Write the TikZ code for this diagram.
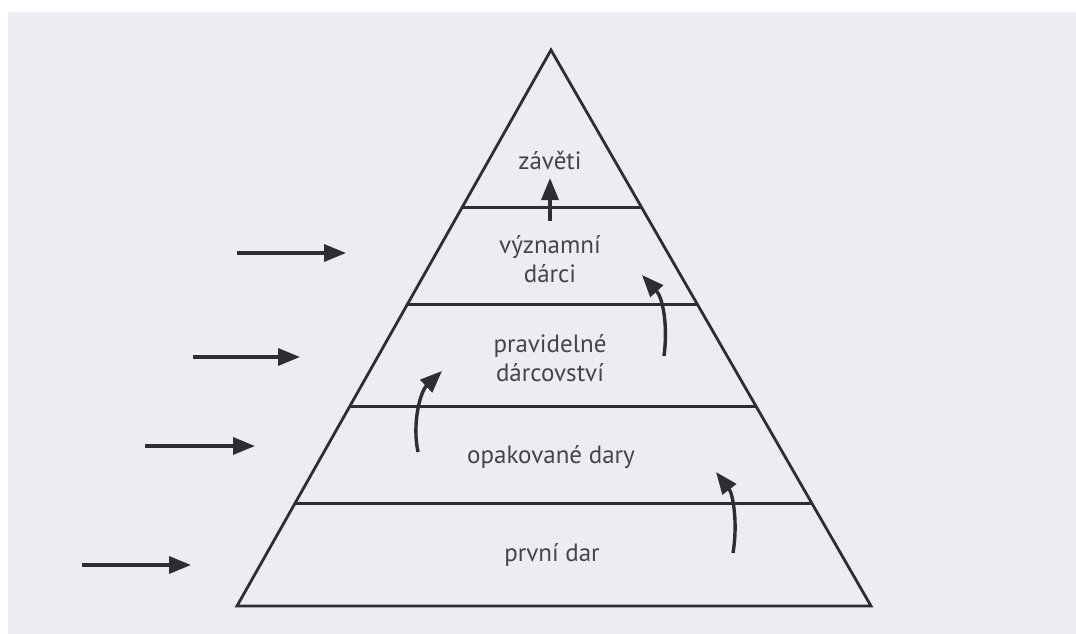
\documentclass[tikz,border=0pt]{standalone}
\usepackage{fontspec}
\setmainfont{PT Sans}
\usetikzlibrary{arrows.meta,calc}
\definecolor{page}{RGB}{236,236,242}
\definecolor{ink}{RGB}{45,45,52}
\definecolor{txt}{RGB}{68,68,74}
\tikzset{
  edge/.style={draw=ink, line width=2.8pt, line join=miter},
  layer/.style={draw=ink, line width=3pt},
  flow/.style={draw=ink, line width=3.4pt, -{Triangle[length=22pt,width=17pt]}},
  lbl/.style={text=txt, font=\fontsize{25}{29}\selectfont, align=center, inner sep=0pt},
}
\begin{document}
\begin{tikzpicture}[x=1pt,y=-1pt]
\fill[white] (0,0) rectangle (1076,634);
\fill[page] (8,12) rectangle (1076,634);
\useasboundingbox (0,0) rectangle (1076,634);
% pyramid corners
\coordinate (apex) at (551,50);
\coordinate (bl) at (237,606);
\coordinate (br) at (871,606);
% layer boundaries
\coordinate (L1) at ($(apex)!0.2824!(bl)$);
\coordinate (R1) at ($(apex)!0.2824!(br)$);
\coordinate (L2) at ($(apex)!0.4586!(bl)$);
\coordinate (R2) at ($(apex)!0.4586!(br)$);
\coordinate (L3) at ($(apex)!0.6403!(bl)$);
\coordinate (R3) at ($(apex)!0.6403!(br)$);
\coordinate (L4) at ($(apex)!0.8165!(bl)$);
\coordinate (R4) at ($(apex)!0.8165!(br)$);
\draw[edge] (bl) -- (apex) -- (br) -- cycle;
\draw[layer] (L1) -- (R1);
\draw[layer] (L2) -- (R2);
\draw[layer] (L3) -- (R3);
\draw[layer] (L4) -- (R4);
% labels
\node[lbl] (zaveti) at (550,160) {závěti};
\node[lbl] (vyznamni) at (550,259) {významní\\dárci};
\node[lbl] (pravidelne) at (550,358) {pravidelné\\dárcovství};
\node[lbl] (opakovane) at (551,457) {opakované dary};
\node[lbl] (prvni) at (552,555) {první dar};
% vertical arrow
\coordinate (v0) at (550,221);
\coordinate (v1) at (550,178);
\draw[flow] (v0) -- (v1);
% incoming arrows
\coordinate (i1a) at (237,253); \coordinate (i1b) at (346,253);
\coordinate (i2a) at (193,357); \coordinate (i2b) at (300,357);
\coordinate (i3a) at (145,446); \coordinate (i3b) at (255,446);
\coordinate (i4a) at (82,565);  \coordinate (i4b) at (191,565);
\draw[flow] (i1a) -- (i1b);
\draw[flow] (i2a) -- (i2b);
\draw[flow] (i3a) -- (i3b);
\draw[flow] (i4a) -- (i4b);
% curved arrows
\coordinate (ca0) at (664,356); \coordinate (ca1) at (642,275);
\coordinate (cb0) at (418,452); \coordinate (cb1) at (442,371);
\coordinate (cc0) at (733,553); \coordinate (cc1) at (716,472);
\draw[flow] (ca0) .. controls (668,326) and (663,298) .. (ca1);
\draw[flow] (cb0) .. controls (412,424) and (420,392) .. (cb1);
\draw[flow] (cc0) .. controls (738,523) and (733,494) .. (cc1);
\end{tikzpicture}
\end{document}
